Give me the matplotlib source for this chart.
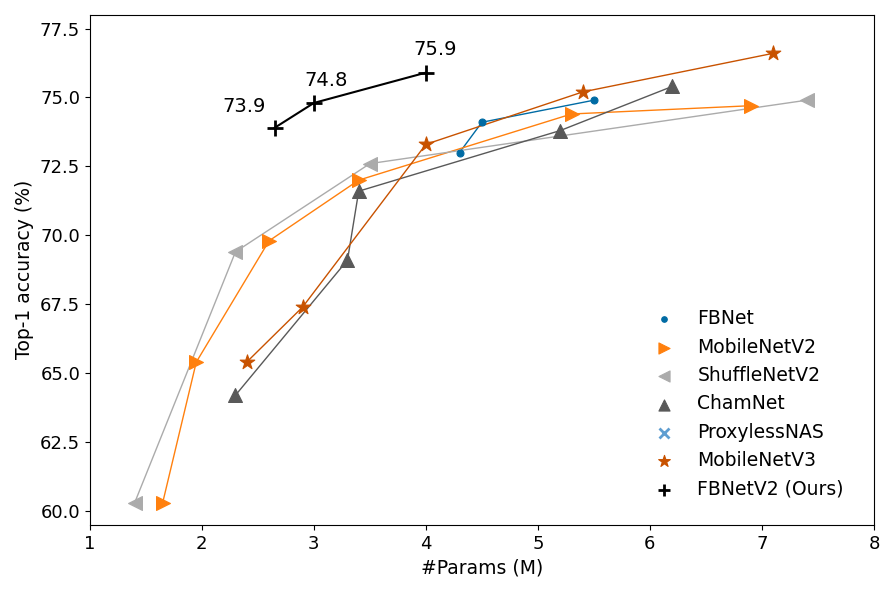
import numpy as np
from matplotlib import pyplot as plt

# data
fbnet_x = [4.3, 4.5, 5.5]
fbnet_y = [73.0, 74.1, 74.9]

mbv2_x = [1.65, 1.95, 2.6, 3.4, 5.3, 6.9]
mbv2_y = [60.3, 65.4, 69.8, 72.0, 74.4, 74.7]

shuffle_x = [1.4, 2.3, 3.5, 7.4]
shuffle_y = [60.3, 69.4, 72.6, 74.9]

cham_x = [2.3, 3.3, 3.4, 5.2, 6.2]
cham_y = [64.2, 69.1, 71.6, 73.8, 75.4]

proxyless_x = []
proxyless_y = []

mbv3_x = [2.4, 2.9, 4.0, 5.4, 7.1]
mbv3_y = [65.4, 67.4, 73.3, 75.2, 76.6]

ours_x = [2.65, 3.0, 4.0]
ours_y = [73.9, 74.8, 75.9]
ours_text = ["73.9", "74.8", "75.9"]
ours_offsets = [(-22, 15), (9, 16), (7, 17)]

series = [
    ("FBNet", fbnet_x, fbnet_y, "#006BA4", "o", 5),
    ("MobileNetV2", mbv2_x, mbv2_y, "#FF800E", ">", 10),
    ("ShuffleNetV2", shuffle_x, shuffle_y, "#ABABAB", "<", 10),
    ("ChamNet", cham_x, cham_y, "#595959", "^", 10),
    ("ProxylessNAS", proxyless_x, proxyless_y, "#5F9ED1", "x", 9),
    ("MobileNetV3", mbv3_x, mbv3_y, "#C85200", "*", 11),
    ("FBNetV2 (Ours)", ours_x, ours_y, "black", "+", 11),
]

fig = plt.figure(figsize=(8.81, 5.89), dpi=100)
ax = fig.add_axes([0.102, 0.109, 0.890, 0.866])

for name, xs, ys, c, m, ms in series:
    lw = 1.5 if name.startswith("FBNetV2") else 1.0
    ax.plot(xs, ys, color=c, linewidth=lw, zorder=2)
    ax.scatter(xs, ys, s=ms ** 2, color=c, marker=m, label=name,
               linewidths=2 if m in ("+", "x") else 0.8, zorder=3)

for x, y, t, off in zip(ours_x, ours_y, ours_text, ours_offsets):
    ax.annotate(t, (x, y), xytext=off, textcoords="offset points",
                ha="center", va="center", fontsize=14)

ax.set_xlim(1, 8)
ax.set_ylim(59.5, 78)
ax.set_yticks(np.arange(60, 77.6, 2.5))
ax.set_xlabel("#Params (M)", fontsize=13.5)
ax.set_ylabel("Top-1 accuracy (%)", fontsize=13.5)
ax.tick_params(labelsize=13)

ax.legend(loc="lower right", fontsize=13.5, frameon=False, handletextpad=0.8,
          markerscale=0.8, labelspacing=0.5, borderaxespad=1.0,
          bbox_to_anchor=(0.995, 0.0))

plt.savefig("out.png", dpi=100)
